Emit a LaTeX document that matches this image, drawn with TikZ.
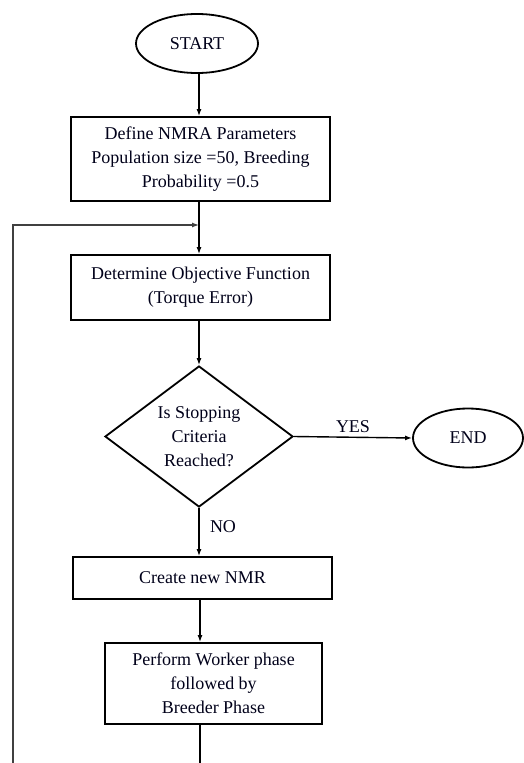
\documentclass[tikz,border=0pt]{standalone}
\usepackage{fontspec}
\setmainfont{Liberation Serif}
\usetikzlibrary{shapes.geometric,arrows.meta}
\begin{document}
\begin{tikzpicture}[x=1pt,y=-1pt,
  txt/.style={font=\fontsize{18}{24}\selectfont, text=black!90!blue},
  box/.style={txt, draw, line width=1.8pt, align=center, inner sep=0pt},
  term/.style={txt, draw, ellipse, line width=1.8pt, inner sep=0pt},
  decide/.style={txt, draw, diamond, aspect=1.333, line width=1.8pt, align=center, inner sep=0pt},
  conn/.style={line width=1.4pt, -{Latex[length=7pt,width=5pt]}},
  plain/.style={line width=1.4pt},
  loopline/.style={line width=1.2pt, draw=black!75}
]
\useasboundingbox (0,0) rectangle (524,763);

\node[term, minimum width=122pt, minimum height=59pt] (start) at (197,43.5) {START};
\node[box, minimum width=259pt, minimum height=84pt] (def) at (200.5,159)
  {Define NMRA Parameters\\Population size =50, Breeding\\Probability =0.5};
\node[box, minimum width=259pt, minimum height=65pt] (obj) at (200.5,287.5)
  {Determine Objective Function\\(Torque Error)};
\node[decide, minimum width=188pt, minimum height=141pt] (stop) at (199,436.5)
  {Is Stopping\\Criteria\\Reached?};
\node[term, minimum width=110pt, minimum height=59pt] (end) at (468,438) {END};
\node[box, minimum width=259pt, minimum height=42pt] (new) at (202.5,578) {Create new NMR};
\node[box, minimum width=217pt, minimum height=81pt] (work) at (213.5,683.5)
  {Perform Worker phase\\followed by\\Breeder Phase};

\coordinate (merge) at (199,225);
\coordinate (loopbot) at (13,763);
\coordinate (workbot) at (199,763);

\draw[conn] (start.south -| 199,0) -- (def.north -| 199,0);
\draw[conn] (def.south -| 199,0) -- (obj.north -| 199,0);
\draw[loopline, -{Latex[length=7pt,width=5pt]}] (loopbot) |- (merge);
\draw[conn] (obj.south -| 199,0) -- (stop.north);
\draw[conn] (stop.east) -- (end.west) node[txt, midway, above=1pt] {YES};
\draw[conn] (stop.south) -- (new.north -| 199,0);
\node[txt] (no) at (223,527) {NO};
\draw[conn] (new.south -| 200,0) -- (work.north -| 200,0);
\draw[plain] (work.south -| 200,0) -- (workbot -| 200,0);
\end{tikzpicture}
\end{document}
